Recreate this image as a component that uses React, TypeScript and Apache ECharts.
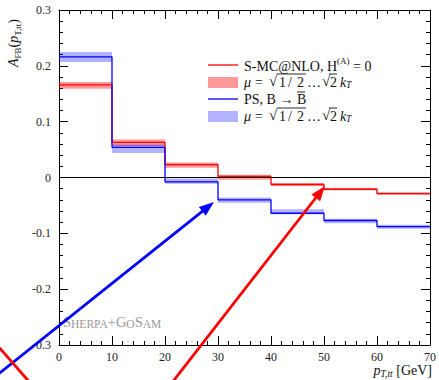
import React, { useEffect, useRef } from "react";
import * as echarts from "echarts";

// bin edges (GeV)
const binEdges = [0, 10, 20, 30, 40, 50, 60, 70];
// S-MC@NLO, H^(A)=0 central values and scale band
const redCentral = [0.166, 0.063, 0.023, 0.002, -0.0125, -0.021, -0.029];
const redLow = [0.159, 0.056, 0.0175, -0.004, -0.015, -0.023, -0.031];
const redHigh = [0.171, 0.068, 0.027, 0.005, -0.010, -0.0185, -0.0265];
// PS, B -> Bbar central values and scale band
const blueCentral = [0.216, 0.054, -0.008, -0.040, -0.064, -0.077, -0.088];
const blueLow = [0.207, 0.044, -0.011, -0.045, -0.066, -0.082, -0.092];
const blueHigh = [0.225, 0.059, -0.002, -0.036, -0.057, -0.074, -0.0845];
// axis ticks
const xTicks = { min: 0, max: 70, step: 10 };
const yTicks = { min: -0.3, max: 0.3, step: 0.1 };

const FONT = "Liberation Serif";
const RED = "#ff0000";
const BLUE = "#0000ff";
const RED_BAND = "rgba(255,0,0,0.4)";
const BLUE_BAND = "rgba(0,0,255,0.3)";
const TXT = "#111";

function stepPoints(vals: number[]) {
  return binEdges.map((e, i) => [e, vals[Math.min(i, vals.length - 1)]]);
}
function bandRows(lo: number[], hi: number[]) {
  return lo.map((l, i) => [binEdges[i], binEdges[i + 1], l, hi[i]]);
}
function bandSeries(name: string, lo: number[], hi: number[], color: string) {
  return {
    name,
    type: "custom",
    data: bandRows(lo, hi),
    encode: { x: [0, 1], y: [2, 3] },
    z: 1,
    renderItem: (params: any, api: any) => {
      const p0 = api.coord([api.value(0), api.value(3)]);
      const p1 = api.coord([api.value(1), api.value(2)]);
      return {
        type: "rect",
        shape: { x: p0[0], y: p0[1], width: p1[0] - p0[0], height: p1[1] - p0[1] },
        style: { fill: color },
      };
    },
  };
}

function arrow(tail: number[], tip: number[], color: string, w: number, headL: number, headW: number) {
  const dx = tip[0] - tail[0];
  const dy = tip[1] - tail[1];
  const len = Math.sqrt(dx * dx + dy * dy);
  const ux = dx / len, uy = dy / len;
  const bx = tip[0] - ux * headL, by = tip[1] - uy * headL;
  const nx = -uy, ny = ux;
  return [
    { type: "line", shape: { x1: tail[0], y1: tail[1], x2: bx + ux * 2, y2: by + uy * 2 }, style: { stroke: color, lineWidth: w }, z: 100 },
    {
      type: "polygon",
      shape: { points: [tip, [bx + nx * headW / 2, by + ny * headW / 2], [bx - nx * headW / 2, by - ny * headW / 2]] },
      style: { fill: color },
      z: 100,
    },
  ];
}

function muLegend(y: number) {
  const base = { fontFamily: FONT, fontSize: 14, fill: TXT, verticalAlign: "middle" };
  const ol = (x1: number, x2: number) => ({
    type: "line",
    shape: { x1, y1: y - 8, x2, y2: y - 8 },
    style: { stroke: TXT, lineWidth: 0.9 },
  });
  return [
    { type: "text", x: 244, y, style: { ...base, text: "μ", fontStyle: "italic" } },
    { type: "text", x: 255, y, style: { ...base, text: "=" } },
    { type: "text", x: 269, y: y - 1, style: { ...base, text: "√", fontSize: 15 } },
    { type: "text", x: 279, y, style: { ...base, text: "1" } },
    { type: "text", x: 288, y, style: { ...base, text: "/" } },
    { type: "text", x: 297, y, style: { ...base, text: "2" } },
    ol(277, 306),
    { type: "text", x: 307, y, style: { ...base, text: "…" } },
    { type: "text", x: 322, y: y - 1, style: { ...base, text: "√", fontSize: 15 } },
    { type: "text", x: 330, y, style: { ...base, text: "2" } },
    ol(329, 337),
    { type: "text", x: 340, y, style: { ...base, text: "k", fontStyle: "italic" } },
    { type: "text", x: 346, y: y + 3, style: { ...base, text: "T", fontStyle: "italic", fontSize: 9.5 } },
  ];
}

export default function App() {
  const ref = useRef<HTMLDivElement>(null);
  useEffect(() => {
    if (!ref.current) return;
    const chart = echarts.init(ref.current, null, { renderer: "svg" });
    const axisCommon = {
      type: "value",
      axisLine: { show: true, onZero: false, lineStyle: { color: "#000", width: 1 } },
      axisTick: { show: true, inside: true, length: 9, lineStyle: { color: "#000", width: 1 } },
      minorTick: { show: true, splitNumber: 5, length: 4, lineStyle: { color: "#000", width: 1 } },
      splitLine: { show: false },
      minorSplitLine: { show: false },
    };
    const labelStyle = { fontFamily: FONT, fontSize: 12, color: "#222" };
    const option: any = {
      animation: false,
      grid: { left: 59, right: 7, top: 10, bottom: 35, containLabel: false },
      xAxis: [
        {
          ...axisCommon,
          position: "bottom",
          min: xTicks.min,
          max: xTicks.max,
          interval: xTicks.step,
          axisLabel: { ...labelStyle, margin: 6 },
        },
        {
          ...axisCommon,
          position: "top",
          min: xTicks.min,
          max: xTicks.max,
          interval: xTicks.step,
          axisLabel: { show: false },
        },
      ],
      yAxis: [
        {
          ...axisCommon,
          position: "left",
          min: yTicks.min,
          max: yTicks.max,
          interval: yTicks.step,
          axisLabel: {
            ...labelStyle,
            margin: 8,
            formatter: (v: number) => (Math.abs(v) < 1e-9 ? "0" : v.toFixed(1)),
          },
        },
        {
          ...axisCommon,
          position: "right",
          min: yTicks.min,
          max: yTicks.max,
          interval: yTicks.step,
          axisLabel: { show: false },
        },
      ],
      series: [
        bandSeries("red band", redLow, redHigh, RED_BAND),
        bandSeries("blue band", blueLow, blueHigh, BLUE_BAND),
        {
          name: "S-MC@NLO",
          type: "line",
          step: "end",
          data: stepPoints(redCentral),
          showSymbol: false,
          lineStyle: { color: RED, width: 1.3 },
          itemStyle: { color: RED },
          z: 3,
          markLine: {
            silent: true,
            symbol: "none",
            label: { show: false },
            lineStyle: { color: "#000", width: 1, type: "solid" },
            data: [{ yAxis: 0 }],
          },
        },
        {
          name: "PS",
          type: "line",
          step: "end",
          data: stepPoints(blueCentral),
          showSymbol: false,
          lineStyle: { color: BLUE, width: 1.3 },
          itemStyle: { color: BLUE },
          z: 4,
        },
      ],
      graphic: [
        // legend
        { type: "line", shape: { x1: 208, y1: 65, x2: 238, y2: 65 }, style: { stroke: RED, lineWidth: 1.3 } },
        {
          type: "text",
          x: 244,
          y: 65,
          style: {
            text: "{n|S-MC@NLO, H}{s|(A)}{n| = 0}",
            verticalAlign: "middle",
            fill: TXT,
            rich: {
              n: { fontFamily: FONT, fontSize: 14, lineHeight: 17, verticalAlign: "bottom" },
              s: { fontFamily: FONT, fontSize: 9, lineHeight: 17, verticalAlign: "top" },
            },
          },
        },
        { type: "rect", shape: { x: 208, y: 77, width: 30, height: 11 }, style: { fill: RED_BAND } },
        ...muLegend(82),
        { type: "line", shape: { x1: 208, y1: 99, x2: 238, y2: 99 }, style: { stroke: BLUE, lineWidth: 1.3 } },
        {
          type: "text",
          x: 244,
          y: 99,
          style: { text: "PS, B → B", fontFamily: FONT, fontSize: 14, fill: TXT, verticalAlign: "middle" },
        },
        { type: "line", shape: { x1: 297, y1: 92, x2: 305, y2: 92 }, style: { stroke: TXT, lineWidth: 0.9 } },
        { type: "rect", shape: { x: 208, y: 111, width: 30, height: 11 }, style: { fill: BLUE_BAND } },
        ...muLegend(116),
        // watermark
        {
          type: "text",
          x: 63,
          y: 322,
          style: {
            text: "{b|S}{s|HERPA}{b|+G}{s|O}{b|S}{s|AM}",
            verticalAlign: "middle",
            fill: "#999",
            rich: {
              b: { fontFamily: FONT, fontSize: 14.5, fill: "#999", verticalAlign: "bottom", lineHeight: 15 },
              s: { fontFamily: FONT, fontSize: 11.5, fill: "#999", verticalAlign: "bottom", lineHeight: 15 },
            },
          },
        },
        // axis names
        {
          type: "text",
          x: 432,
          y: 371,
          style: {
            text: "{i|p}{s|T,tt}{n| [GeV]}",
            align: "right",
            verticalAlign: "middle",
            fill: TXT,
            rich: {
              i: { fontFamily: FONT, fontSize: 14, fontStyle: "italic", lineHeight: 16, verticalAlign: "top" },
              s: { fontFamily: FONT, fontSize: 9.5, fontStyle: "italic", lineHeight: 16, verticalAlign: "bottom" },
              n: { fontFamily: FONT, fontSize: 14, lineHeight: 16, verticalAlign: "top" },
            },
          },
        },
        {
          type: "text",
          x: 14,
          y: 43,
          rotation: Math.PI / 2,
          style: {
            text: "{i|A}{s|FB}{n|(}{i|p}{s|T,tt}{n|)}",
            align: "center",
            verticalAlign: "middle",
            fill: TXT,
            rich: {
              i: { fontFamily: FONT, fontSize: 14, fontStyle: "italic", lineHeight: 16, verticalAlign: "top" },
              s: { fontFamily: FONT, fontSize: 9, lineHeight: 16, verticalAlign: "bottom" },
              n: { fontFamily: FONT, fontSize: 14, lineHeight: 16, verticalAlign: "top" },
            },
          },
        },
        // annotation arrows
        ...arrow([-4, 376], [214, 202], BLUE, 2.8, 15, 11),
        ...arrow([171, 384], [325, 186], RED, 2.8, 15, 11),
        { type: "line", shape: { x1: -3, y1: 345, x2: 32, y2: 385 }, style: { stroke: RED, lineWidth: 2.8 }, z: 100 },
      ],
    };
    chart.setOption(option);
    return () => chart.dispose();
  }, []);
  return <div ref={ref} style={{ position: "absolute", left: 0, top: 0, width: 439, height: 380 }} />;
}
